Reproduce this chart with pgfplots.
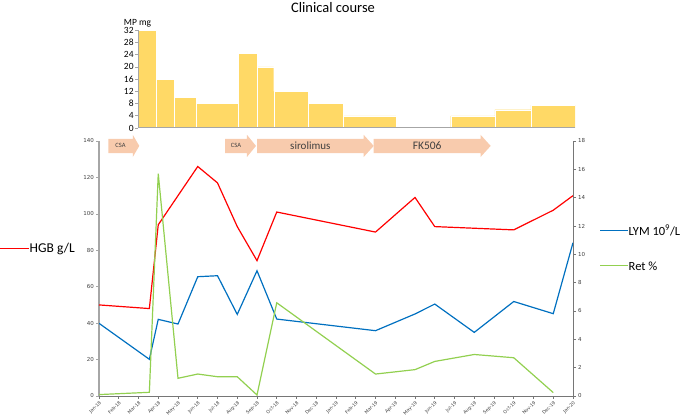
\documentclass[border=0pt]{standalone}
\usepackage{pgfplots}
\pgfplotsset{compat=1.18}
\usepackage{fontspec}
\setmainfont{Carlito}
\newfontfamily\dejavu{DejaVu Sans}
\definecolor{hgb}{RGB}{255,0,0}
\definecolor{lym}{RGB}{0,112,192}
\definecolor{ret}{RGB}{146,208,80}
\definecolor{mp}{RGB}{255,217,102}
\definecolor{arr}{RGB}{248,203,173}
\definecolor{axgray}{RGB}{166,166,166}
\definecolor{axdark}{RGB}{118,118,118}
\definecolor{txt}{RGB}{64,64,64}

% arrow: x0, head base, tip, label, font size
\newcommand{\myarrow}[5]{%
  \fill[arr] (axis cs:#1,133.4) -- (axis cs:#2,133.4) -- (axis cs:#2,131.2) -- (axis cs:#3,137.3)
     -- (axis cs:#2,143.4) -- (axis cs:#2,141.2) -- (axis cs:#1,141.2) -- cycle;
  \node[font=\fontsize{#5}{#5}\selectfont, text=txt, inner sep=0pt] at (axis cs:{(#1+#2)/2},137.3) {#4};
}

\begin{document}
\begin{tikzpicture}[x=1pt,y=1pt]
\useasboundingbox (0,0) rectangle (685,419);

% ---------- top bar chart (MP mg) ----------
\begin{axis}[
  at={(138.3pt,291pt)}, anchor=south west,
  scale only axis, width=436.7pt, height=97.7pt,
  xmin=1.99, xmax=24.14, ymin=0, ymax=32,
  axis x line=bottom, axis y line=left, axis line style={-},
  x axis line style={draw=axgray, line width=1pt},
  y axis line style={draw=axgray, line width=1pt},
  axis on top=true,
  xtick=\empty,
  ytick={0,4,...,32},
  tick align=outside, major tick length=3pt,
  tick style={draw=axgray, line width=0.6pt},
  /pgf/number format/assume math mode=true,
  yticklabel style={font=\fontsize{9.5}{10}\selectfont, text=black, inner sep=1.5pt},
]
\addplot[ybar interval, fill=mp, draw=white, line width=0.2pt] coordinates {
  (1.99,32) (2.91,16) (3.79,10) (4.93,8) (7.05,24.5) (8.0,20) (8.86,12)
  (10.6,8) (12.37,4) (15.05,0) (17.83,4) (20.08,6) (21.9,7.5) (24.14,7.5)};
\end{axis}

% ---------- main chart, left axis (HGB) ----------
\begin{axis}[
  at={(99pt,23pt)}, anchor=south west,
  scale only axis, width=474pt, height=255pt,
  xmin=0, xmax=24, ymin=0, ymax=140,
  clip=false,
  axis x line=bottom, axis y line=left, axis line style={-},
  x axis line style={draw=axdark, line width=0.8pt},
  y axis line style={draw=axgray, line width=1.2pt},
  xtick={0,...,24},
  xticklabels={Jan-18,Feb-18,Mar-18,Apr-18,May-18,Jun-18,Jul-18,Aug-18,Sep-18,Oct-18,Nov-18,Dec-18,Jan-19,Feb-19,Mar-19,Apr-19,May-19,Jun-19,Jul-19,Aug-19,Sep-19,Oct-19,Nov-19,Dec-19,Jan-20},
  ytick={0,20,...,140},
  tick align=outside, major tick length=3pt,
  x tick style={draw=axdark, line width=0.6pt},
  y tick style={draw=axgray, line width=0.6pt},
  /pgf/number format/assume math mode=true,
  xticklabel style={font=\dejavu\fontsize{4.6}{5}\selectfont, text=txt, rotate=45, anchor=north east, inner sep=1pt},
  yticklabel style={font=\dejavu\fontsize{5.5}{6}\selectfont, text=txt, inner sep=2pt},
]
\addplot[hgb, line width=1.2pt] coordinates {
  (0,50) (2.55,48) (3,94) (4,110) (5,126) (6,117) (7,93) (8,74.3) (9,101)
  (14,90) (16,109) (17,93) (21,91.2) (23,102) (24,110)};
\myarrow{0.47}{1.71}{2.04}{CSA}{6.5}
\myarrow{6.39}{7.49}{7.95}{CSA}{6.5}
\myarrow{8.0}{13.4}{13.91}{sirolimus}{11}
\myarrow{13.91}{19.32}{19.83}{FK506}{11.5}
\end{axis}

% ---------- main chart, right axis (LYM, Ret) ----------
\begin{axis}[
  at={(99pt,23pt)}, anchor=south west,
  scale only axis, width=474pt, height=255pt,
  xmin=0, xmax=24, ymin=0, ymax=18,
  axis x line=none, axis y line=right, axis line style={-},
  y axis line style={draw=axdark, line width=0.8pt},
  ytick={0,2,...,18},
  tick align=outside, major tick length=3pt,
  y tick style={draw=axdark, line width=0.6pt},
  /pgf/number format/assume math mode=true,
  yticklabel style={font=\dejavu\fontsize{5.5}{6}\selectfont, text=txt, inner sep=2pt},
]
\addplot[lym, line width=1.2pt] coordinates {
  (0,5.13) (2.55,2.59) (3,5.41) (4,5.08) (5,8.42) (6,8.49) (7,5.76) (8,8.84) (9,5.43)
  (14,4.61) (16,5.79) (17,6.49) (19,4.49) (21,6.67) (23,5.81) (24,10.82)};
\addplot[ret, line width=1.2pt] coordinates {
  (0,0.1) (2.55,0.26) (3,15.7) (4,1.25) (5,1.55) (6,1.36) (7,1.36) (8,0.07) (9,6.58)
  (14,1.55) (16,1.86) (17,2.44) (19,2.93) (21,2.70) (23,0.24)};
\end{axis}

% ---------- titles and legend ----------
\node[font=\fontsize{14.5}{16}\selectfont, text=black] at (333,411.5) {Clinical course};
\node[font=\fontsize{9.5}{11}\selectfont, text=black] at (137.5,396) {MP mg};

\draw[hgb, line width=1.2pt] (0,170.5) -- (29,170.5);
\node[anchor=west, inner sep=0.5pt, font=\fontsize{13.5}{15}\selectfont] at (29,170.5) {HGB g/L};
\draw[lym, line width=1pt] (600,188.5) -- (628,188.5);
\node[anchor=west, inner sep=0.5pt, font=\fontsize{12.5}{14}\selectfont] at (628,188.5) {LYM 10\textsuperscript{9}/L};
\draw[ret, line width=1pt] (600,153) -- (628,153);
\node[anchor=west, inner sep=0.5pt, font=\fontsize{12.5}{14}\selectfont] at (628,153) {Ret \%};
\end{tikzpicture}
\end{document}
